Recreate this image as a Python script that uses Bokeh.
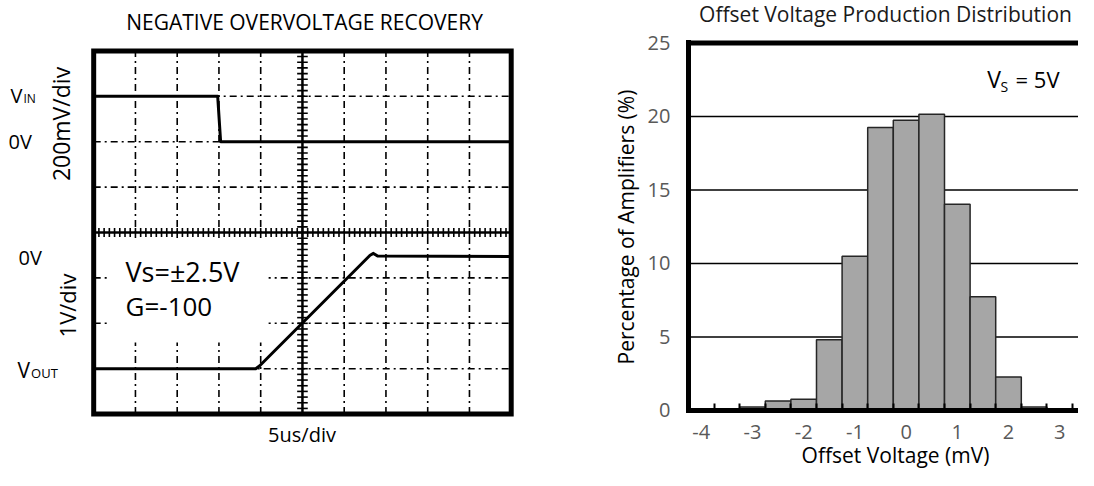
import numpy as np
from math import pi
from bokeh.plotting import figure
from bokeh.layouts import row
from bokeh.models import Label, FixedTicker, Range1d, LinearAxis
from bokeh.embed import file_html
from bokeh.resources import INLINE

FONT = "Open Sans"

# ---------------- Left panel: negative overvoltage recovery (in scope divisions) ----------------
x_divs = 10
y_divs = 8
minor_per_div = 8
vin_t = [0.0, 2.97, 3.04, 10.0]
vin_v = [7.0, 7.0, 6.0, 6.0]
vout_t = [0.0, 3.88, 3.97, 6.62, 6.70, 6.80, 10.0]
vout_v = [1.0, 1.0, 1.06, 3.50, 3.54, 3.48, 3.47]

# ---------------- Right panel: offset voltage histogram ----------------
offset_bins = [-4.0, -3.5, -3.0, -2.5, -2.0, -1.5, -1.0, -0.5, 0.0, 0.5, 1.0, 1.5, 2.0, 2.5, 3.0, 3.5]
pct = [0.0, 0.0, 0.24, 0.65, 0.76, 4.82, 10.5, 19.25, 19.74, 20.15, 14.03, 7.74, 2.28, 0.24, 0.0, 0.0]
bin_width = 0.5
x_tick_vals = [-4, -3, -2, -1, 0, 1, 2, 3]
x_tick_labels = ["-4", "-3", "-2", "-1", "0", "1", "2", "3"]
y_tick_vals = [0, 5, 10, 15, 20, 25]
y_grid_vals = [5, 10, 15, 20]


def lab(p, x, y, text, size, align="left", baseline="middle", angle=0.0, color="black"):
    p.add_layout(Label(x=x, y=y, text=text, text_font=FONT, text_font_size=f"{size}px",
                       text_align=align, text_baseline=baseline, angle=angle,
                       text_color=color))


def bare(p):
    p.min_border_left = p.min_border_right = p.min_border_top = p.min_border_bottom = 0
    p.outline_line_color = None
    p.grid.visible = False
    p.background_fill_color = "white"
    p.border_fill_color = "white"


# ================= LEFT =================
p1 = figure(width=552, height=470, x_range=Range1d(-2.232, 10.989), y_range=Range1d(-1.242, 9.110),
            x_axis_type=None, y_axis_type=None, title=None,
            output_backend="svg", toolbar_location=None)
bare(p1)

cx = x_divs / 2
cy = y_divs / 2
gx = [i for i in range(1, x_divs) if i != cx]
gy = [j for j in range(1, y_divs) if j != cy]
p1.segment(x0=gx, y0=[0] * len(gx), x1=gx, y1=[y_divs] * len(gx),
           line_color="black", line_width=1.6, line_dash="7 4 2 4")
p1.segment(x0=[0] * len(gy), y0=gy, x1=[x_divs] * len(gy), y1=gy,
           line_color="black", line_width=1.6, line_dash="7 4 2 4")
# white box behind the supply / gain note
p1.quad(left=[0.36], right=[4.19], bottom=[1.58], top=[3.88], fill_color="white", line_color=None)
# centre cross with minor ticks
p1.segment(x0=[cx, 0], y0=[0, cy], x1=[cx, x_divs], y1=[y_divs, cy], line_color="black", line_width=2.5)
tx = np.arange(0, x_divs * minor_per_div + 1) / minor_per_div
ty = np.arange(0, y_divs * minor_per_div + 1) / minor_per_div
p1.segment(x0=tx, y0=cy - 0.1, x1=tx, y1=cy + 0.1, line_color="black", line_width=1.6)
p1.segment(x0=cx - 0.127, y0=ty, x1=cx + 0.127, y1=ty, line_color="black", line_width=1.6)
# screen border
p1.quad(left=[0], right=[x_divs], bottom=[0], top=[y_divs], fill_color=None,
        line_color="black", line_width=5, line_join="miter")

p1.line(vin_t, vin_v, line_color="black", line_width=3, line_join="round")
p1.line(vout_t, vout_v, line_color="black", line_width=3, line_join="round")

lab(p1, 5.05, 8.632, "NEGATIVE OVERVOLTAGE RECOVERY", 21, align="center")
lab(p1, -1.993, 7.018, "V", 20)
lab(p1, -1.681, 6.958, "IN", 12)
lab(p1, -2.04, 6.015, "0V", 20)
lab(p1, -0.771, 6.39, "200mV/div", 23, align="center", angle=pi / 2)
lab(p1, -1.80, 3.456, "0V", 20)
lab(p1, -0.651, 2.392, "1V/div", 22, align="center", angle=pi / 2)
lab(p1, -1.825, 0.971, "V", 21)
lab(p1, -1.50, 0.907, "OUT", 13)
lab(p1, 0.762, 3.141, "Vs=±2.5V", 27)
lab(p1, 0.762, 2.372, "G=-100", 26)
lab(p1, 4.99, -0.456, "5us/div", 20, align="center")

# ================= RIGHT =================
x0_edge = offset_bins[0] - bin_width / 2
x1_edge = offset_bins[-1] + bin_width / 2
p2 = figure(width=526, height=470, x_range=Range1d(-6.906, 3.367), y_range=Range1d(-4.082, 27.891),
            x_axis_type=None, y_axis_type=None, title=None,
            output_backend="svg", toolbar_location=None)
bare(p2)

p2.segment(x0=[x0_edge] * len(y_grid_vals), y0=y_grid_vals, x1=[x1_edge] * len(y_grid_vals), y1=y_grid_vals,
           line_color="black", line_width=1.5)
p2.vbar(x=offset_bins, top=pct, width=bin_width, bottom=0,
        fill_color="#a6a6a6", line_color="#262626", line_width=1.5)
# top edge of the chart box
p2.segment(x0=[x0_edge], y0=[y_tick_vals[-1]], x1=[x1_edge], y1=[y_tick_vals[-1]],
           line_color="black", line_width=5, line_cap="square")

boundaries = [b - bin_width / 2 for b in offset_bins] + [x1_edge]
xaxis = LinearAxis(fixed_location=0, bounds=(x0_edge, x1_edge),
                   ticker=FixedTicker(ticks=x_tick_vals, minor_ticks=boundaries),
                   major_label_overrides=dict(zip(x_tick_vals, x_tick_labels)))
xaxis.axis_line_width = 5
xaxis.axis_line_color = "black"
xaxis.axis_line_cap = "square"
xaxis.major_tick_line_color = None
xaxis.major_tick_in = 0
xaxis.major_tick_out = 0
xaxis.minor_tick_in = 7
xaxis.minor_tick_out = 0
xaxis.minor_tick_line_width = 2
xaxis.minor_tick_line_color = "black"
xaxis.major_label_standoff = 15

yaxis = LinearAxis(fixed_location=x0_edge, bounds=(0, y_tick_vals[-1]),
                   ticker=FixedTicker(ticks=y_tick_vals, minor_ticks=[]))
yaxis.axis_line_width = 5
yaxis.axis_line_color = "black"
yaxis.axis_line_cap = "square"
yaxis.major_tick_line_color = None
yaxis.minor_tick_line_color = None
yaxis.major_tick_in = 0
yaxis.major_tick_out = 0
yaxis.major_label_standoff = 18

for ax in (xaxis, yaxis):
    ax.major_label_text_font = FONT
    ax.major_label_text_font_size = "20px"
    ax.major_label_text_color = "#595959"
p2.add_layout(xaxis, "below")
p2.add_layout(yaxis, "left")

lab(p2, -0.402, 26.94, "Offset Voltage Production Distribution", 21, align="center", color="#1a1a1a")
lab(p2, 1.584, 22.56, "V", 23)
lab(p2, 1.844, 22.05, "S", 14)
lab(p2, 2.137, 22.56, "= 5V", 22)
lab(p2, -5.48, 12.48, "Percentage of Amplifiers (%)", 21, align="center", angle=pi / 2)
lab(p2, -0.207, -3.061, "Offset Voltage (mV)", 21, align="center")

layout = row(p1, p2)
open("out.html", "w").write(file_html(layout, INLINE))
